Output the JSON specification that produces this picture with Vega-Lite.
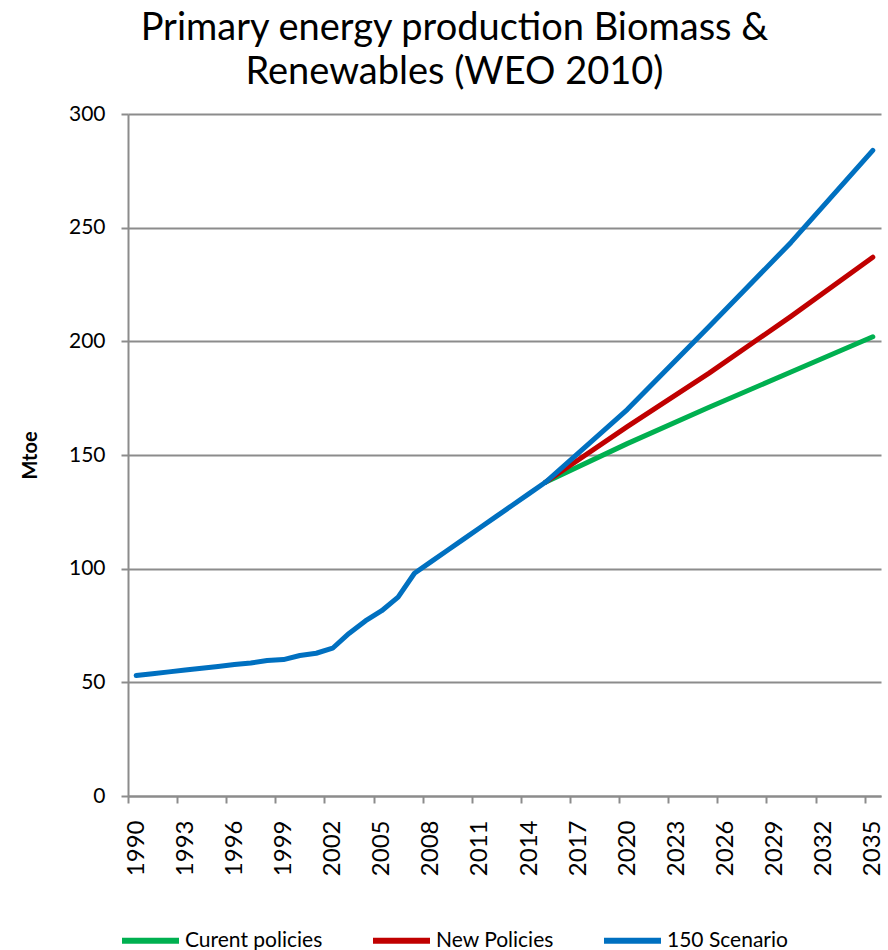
{
  "$schema": "https://vega.github.io/schema/vega-lite/v6.json",
  "autosize": "none",
  "width": 753,
  "height": 682,
  "padding": {"left": 128, "top": 114, "right": 7, "bottom": 154},
  "background": "white",
  "config": {
    "font": "Lato",
    "view": {"stroke": null}
  },
  "title": {
    "text": ["Primary energy production Biomass &", "Renewables (WEO 2010)"],
    "fontSize": 38,
    "fontWeight": "normal",
    "font": "Lato",
    "color": "#000000",
    "lineHeight": 44,
    "anchor": "middle",
    "dx": -50,
    "offset": 11
  },
  "data": {
    "values": [
      {"series": "Curent policies", "year": 2015, "value": 138},
      {"series": "Curent policies", "year": 2020, "value": 155},
      {"series": "Curent policies", "year": 2025, "value": 171},
      {"series": "Curent policies", "year": 2030, "value": 186.5},
      {"series": "Curent policies", "year": 2035, "value": 202},
      {"series": "New Policies", "year": 2015, "value": 138},
      {"series": "New Policies", "year": 2020, "value": 162.5},
      {"series": "New Policies", "year": 2025, "value": 186},
      {"series": "New Policies", "year": 2030, "value": 211},
      {"series": "New Policies", "year": 2035, "value": 237},
      {"series": "150 Scenario", "year": 1990, "value": 53},
      {"series": "150 Scenario", "year": 1991, "value": 53.8},
      {"series": "150 Scenario", "year": 1992, "value": 54.6},
      {"series": "150 Scenario", "year": 1993, "value": 55.4},
      {"series": "150 Scenario", "year": 1994, "value": 56.2},
      {"series": "150 Scenario", "year": 1995, "value": 57},
      {"series": "150 Scenario", "year": 1996, "value": 57.8},
      {"series": "150 Scenario", "year": 1997, "value": 58.5},
      {"series": "150 Scenario", "year": 1998, "value": 59.6},
      {"series": "150 Scenario", "year": 1999, "value": 60},
      {"series": "150 Scenario", "year": 2000, "value": 61.8},
      {"series": "150 Scenario", "year": 2001, "value": 62.8},
      {"series": "150 Scenario", "year": 2002, "value": 65},
      {"series": "150 Scenario", "year": 2003, "value": 71.5},
      {"series": "150 Scenario", "year": 2004, "value": 77},
      {"series": "150 Scenario", "year": 2005, "value": 81.5},
      {"series": "150 Scenario", "year": 2006, "value": 87.5},
      {"series": "150 Scenario", "year": 2007, "value": 98},
      {"series": "150 Scenario", "year": 2008, "value": 103},
      {"series": "150 Scenario", "year": 2009, "value": 108},
      {"series": "150 Scenario", "year": 2010, "value": 113},
      {"series": "150 Scenario", "year": 2011, "value": 118},
      {"series": "150 Scenario", "year": 2012, "value": 123},
      {"series": "150 Scenario", "year": 2013, "value": 128},
      {"series": "150 Scenario", "year": 2014, "value": 133},
      {"series": "150 Scenario", "year": 2015, "value": 138},
      {"series": "150 Scenario", "year": 2020, "value": 170},
      {"series": "150 Scenario", "year": 2025, "value": 206.5},
      {"series": "150 Scenario", "year": 2030, "value": 243.5},
      {"series": "150 Scenario", "year": 2035, "value": 284}
    ]
  },
  "mark": {"type": "line", "strokeWidth": 5, "strokeCap": "round", "strokeJoin": "round"},
  "encoding": {
    "x": {
      "field": "year",
      "type": "quantitative",
      "scale": {"domain": [1989.5, 2035.5], "nice": false, "zero": false},
      "axis": {
        "title": null,
        "values": [1990, 1993, 1996, 1999, 2002, 2005, 2008, 2011, 2014, 2017, 2020, 2023, 2026, 2029, 2032, 2035],
        "format": "d",
        "grid": false,
        "labelAngle": -90,
        "labelAlign": "right",
        "labelBaseline": "middle",
        "labelFontSize": 24,
        "labelColor": "#000000",
        "labelPadding": 17,
        "labelOffset": 8.2,
        "tickOffset": -8.2,
        "tickSize": 7,
        "tickColor": "#8c8c8c",
        "tickWidth": 2,
        "domainColor": "#8c8c8c",
        "domainWidth": 2,
        "labelFlush": false,
        "labelOverlap": false
      }
    },
    "y": {
      "field": "value",
      "type": "quantitative",
      "scale": {"domain": [0, 300], "nice": false},
      "axis": {
        "title": "Mtoe",
        "titleFontSize": 20,
        "titleFontWeight": "bold",
        "titleColor": "#000000",
        "titlePadding": 28,
        "values": [0, 50, 100, 150, 200, 250, 300],
        "labelFontSize": 21,
        "labelColor": "#000000",
        "labelPadding": 16,
        "tickSize": 7,
        "tickColor": "#8c8c8c",
        "tickWidth": 2,
        "domainColor": "#8c8c8c",
        "domainWidth": 2,
        "gridColor": "#8c8c8c",
        "gridWidth": 2,
        "gridOpacity": 1
      }
    },
    "color": {
      "field": "series",
      "type": "nominal",
      "sort": ["Curent policies", "New Policies", "150 Scenario"],
      "scale": {
        "domain": ["Curent policies", "New Policies", "150 Scenario"],
        "range": ["#00B050", "#C00000", "#0070C0"]
      },
      "legend": {
        "title": null,
        "orient": "none",
        "direction": "horizontal",
        "legendX": -9,
        "legendY": 795,
        "symbolType": "stroke",
        "symbolSize": 3249,
        "symbolStrokeWidth": 6,
        "labelFontSize": 21,
        "labelColor": "#000000",
        "labelOffset": 3,
        "columnPadding": 38
      }
    },
    "order": {"field": "series"}
  }
}
